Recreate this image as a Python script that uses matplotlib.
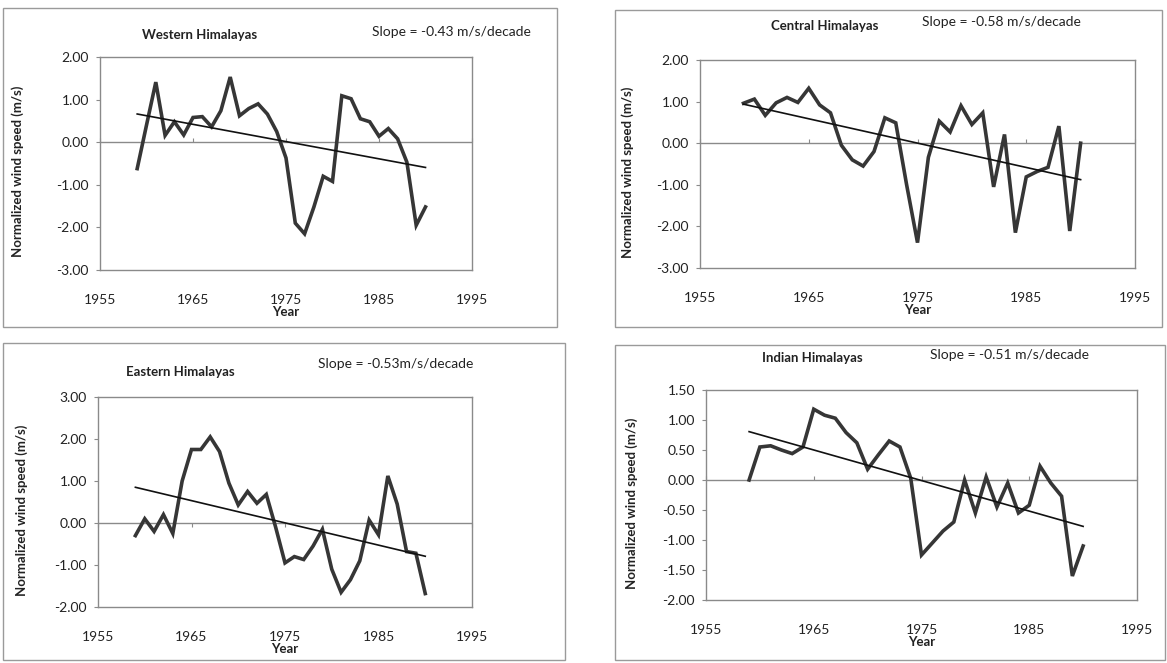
import matplotlib
matplotlib.use("Agg")
import matplotlib.pyplot as plt
from matplotlib.patches import Rectangle
import numpy as np

# data, one value per year 1959-1990
years = list(range(1959, 1991))

western = [-0.62, 0.40, 1.41, 0.16, 0.48, 0.17, 0.58, 0.60, 0.36, 0.74,
           1.53, 0.62, 0.79, 0.90, 0.66, 0.25, -0.37, -1.90, -2.15, -1.52,
           -0.80, -0.92, 1.09, 1.02, 0.55, 0.48, 0.14, 0.32, 0.08, -0.47,
           -1.95, -1.52]
central = [0.96, 1.06, 0.67, 0.97, 1.10, 0.98, 1.32, 0.92, 0.73, -0.05,
           -0.40, -0.55, -0.20, 0.61, 0.49, -1.00, -2.39, -0.34, 0.53, 0.27,
           0.90, 0.45, 0.73, -1.05, 0.21, -2.15, -0.81, -0.68, -0.58, 0.41,
           -2.11, 0.00]
eastern = [-0.30, 0.10, -0.20, 0.20, -0.25, 1.00, 1.75, 1.75, 2.05, 1.70,
           0.95, 0.43, 0.75, 0.47, 0.68, -0.10, -0.95, -0.80, -0.87, -0.55,
           -0.15, -1.10, -1.65, -1.35, -0.90, 0.07, -0.28, 1.12, 0.45, -0.68,
           -0.72, -1.68]
indian = [0.00, 0.55, 0.57, 0.50, 0.44, 0.55, 1.18, 1.08, 1.03, 0.79,
          0.62, 0.18, 0.42, 0.65, 0.55, 0.03, -1.25, -1.05, -0.85, -0.70,
          0.00, -0.55, 0.05, -0.45, -0.05, -0.55, -0.42, 0.23, -0.05, -0.27,
          -1.60, -1.10]

titles = ["Western Himalayas", "Central Himalayas", "Eastern Himalayas", "Indian Himalayas"]
slope_labels = ["Slope = -0.43 m/s/decade", "Slope = -0.58 m/s/decade",
                "Slope = -0.53m/s/decade", "Slope = -0.51 m/s/decade"]
x_ticks = [1955, 1965, 1975, 1985, 1995]
y_ticks_wc = [2.0, 1.0, 0.0, -1.0, -2.0, -3.0]
y_ticks_e = [3.0, 2.0, 1.0, 0.0, -1.0, -2.0]
y_ticks_i = [1.5, 1.0, 0.5, 0.0, -0.5, -1.0, -1.5, -2.0]

W, H = 1167, 663
plt.rcParams['font.family'] = ['Lato', 'DejaVu Sans']

fig = plt.figure(figsize=(W / 100, H / 100), dpi=100)
fig.patch.set_facecolor('white')

# pixel layout: plot box (l, t, r, b), chart border (l, t, r, b), title / slope text spots, y-label x
panels = [
    dict(data=western, yt=y_ticks_wc, box=(100, 57, 472, 270), border=(3, 8, 557, 327),
         title=(200, 35), slope=(372, 32), ylab=18),
    dict(data=central, yt=y_ticks_wc, box=(700, 60, 1135, 268), border=(615, 10, 1162, 327),
         title=(825, 26), slope=(922, 22), ylab=628),
    dict(data=eastern, yt=y_ticks_e, box=(98, 397, 472, 607), border=(3, 343, 565, 660),
         title=(180, 372), slope=(318, 364), ylab=22),
    dict(data=indian, yt=y_ticks_i, box=(706, 390, 1137, 600), border=(615, 345, 1165, 660),
         title=(812, 358), slope=(930, 355), ylab=632),
]

grey = '#8a8a8a'
for i, p in enumerate(panels):
    l, t, r, b = p['box']
    ax = fig.add_axes([l / W, 1 - b / H, (r - l) / W, (b - t) / H])
    vals = np.array(p['data'])
    ax.plot(years, vals, color='#363636', lw=2.6, solid_joinstyle='miter')
    k, c = np.polyfit(years, vals, 1)
    yr = np.array([years[0], years[-1]])
    ax.plot(yr, k * yr + c, color='#111111', lw=1.2)
    ax.axhline(0, color=grey, lw=1.0, zorder=0)

    ax.set_xlim(1955, 1995)
    ax.set_ylim(min(p['yt']), max(p['yt']))
    ax.set_xticks(x_ticks)
    ax.set_yticks(p['yt'])
    ax.set_yticklabels(['%.2f' % v for v in p['yt']])
    ax.tick_params(axis='x', length=0, pad=17, labelsize=10, colors='#222222')
    ax.tick_params(axis='y', length=3, width=0.8, color=grey, pad=5, labelsize=10,
                   labelcolor='#222222')
    for s in ax.spines.values():
        s.set_color(grey)
        s.set_linewidth(1.0)

    # tick marks on the zero line
    zero_frac = -min(p['yt']) / (max(p['yt']) - min(p['yt']))
    sec = ax.secondary_xaxis(zero_frac)
    sec.set_xticks(x_ticks)
    sec.tick_params(length=3, width=0.8, color=grey, direction='out', labelbottom=False,
                    labeltop=False)
    sec.spines['bottom'].set_visible(False)
    sec.spines['top'].set_visible(False)

    fig.text(((l + r) / 2) / W, 1 - (b + 42) / H, 'Year', ha='center', va='center',
             fontsize=9.5, fontweight='bold', color='#222222')
    fig.text(p['ylab'] / W, 1 - ((t + b) / 2 + 8) / H, 'Normalized wind speed (m/s)',
             rotation=90, ha='center', va='center', fontsize=9.5, fontweight='bold',
             color='#222222')
    fig.text(p['title'][0] / W, 1 - p['title'][1] / H, titles[i], ha='center', va='center',
             fontsize=9.5, fontweight='bold', color='#222222')
    fig.text(p['slope'][0] / W, 1 - p['slope'][1] / H, slope_labels[i], ha='left',
             va='center', fontsize=10, color='#222222')

    bl, bt, br, bb = p['border']
    fig.add_artist(Rectangle((bl / W, 1 - bb / H), (br - bl) / W, (bb - bt) / H,
                             transform=fig.transFigure, fill=False, edgecolor='#9a9a9a',
                             lw=1.0))

fig.savefig('out.png', dpi=100)
